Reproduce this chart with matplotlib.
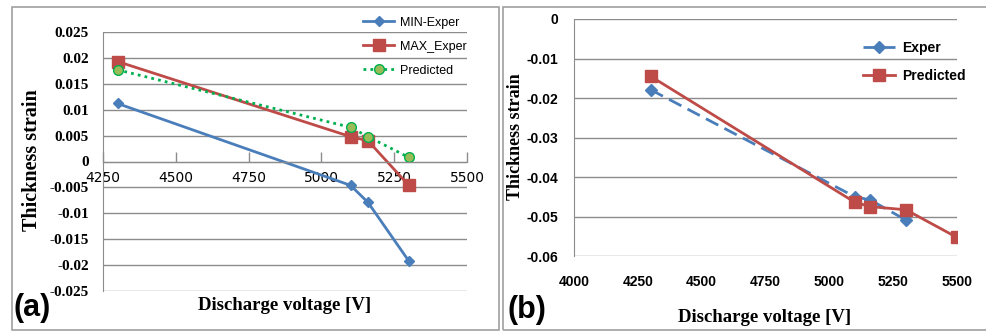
import matplotlib
matplotlib.use('Agg')
import matplotlib.pyplot as plt
from matplotlib.patches import Rectangle

# panel (a)
volt_a = [4300, 5100, 5160, 5300]
min_exper = [0.0112, -0.0046, -0.0079, -0.0192]
max_exper = [0.0193, 0.0048, 0.0040, -0.0046]
pred_a = [0.0177, 0.0066, 0.0048, 0.0008]
xticks_a = [4250, 4500, 4750, 5000, 5250, 5500]
yticks_a = [0.025, 0.02, 0.015, 0.01, 0.005, 0, -0.005, -0.01, -0.015, -0.02, -0.025]

# panel (b)
volt_b_exp = [4300, 5100, 5160, 5300]
exper_b = [-0.0179, -0.0450, -0.0458, -0.0509]
volt_b_pred = [4300, 5100, 5160, 5300, 5500]
pred_b = [-0.0145, -0.0464, -0.0475, -0.0483, -0.0553]
xticks_b = [4000, 4250, 4500, 4750, 5000, 5250, 5500]
yticks_b = [0, -0.01, -0.02, -0.03, -0.04, -0.05, -0.06]

BLUE = '#4A7EBB'
RED = '#BE4B48'
GREEN = '#00B050'
OLIVE = '#9BBB59'
GRID = '#8C8C8C'

fig = plt.figure(figsize=(9.87, 3.31), dpi=100)
W, H = 987.0, 331.0

def fx(px):
    return px / W

def fy(py):
    return 1 - py / H

# panel frames
fig.patches.append(Rectangle((fx(12), fy(330)), fx(499) - fx(12), fy(7) - fy(330),
                             transform=fig.transFigure, fill=False, ec='#A0A0A0', lw=1.2))
fig.patches.append(Rectangle((fx(503), fy(330)), fx(990) - fx(503), fy(7) - fy(330),
                             transform=fig.transFigure, fill=False, ec='#A0A0A0', lw=1.2))

# ---- (a) ----
ax1 = fig.add_axes([fx(103), fy(291), fx(467) - fx(103), fy(32) - fy(291)])
ax1.plot(volt_a, min_exper, color=BLUE, lw=2, marker='D', ms=5, mfc=BLUE, mec=BLUE, label='MIN-Exper')
ax1.plot(volt_a, max_exper, color=RED, lw=2, marker='s', ms=8, mfc=RED, mec=RED, label='MAX_Exper')
ax1.plot(volt_a, pred_a, color=GREEN, lw=2, ls=(0, (1, 1.5)), marker='o', ms=7,
         mfc=OLIVE, mec=GREEN, label='Predicted')
ax1.set_xlim(4250, 5500)
ax1.set_ylim(-0.025, 0.025)
ax1.set_xticks(xticks_a)
ax1.set_yticks(yticks_a)
ax1.set_yticklabels([f'{v:g}' for v in yticks_a], family='Liberation Serif', fontweight='bold', fontsize=11)
ax1.set_xticklabels([str(v) for v in xticks_a], family='Liberation Sans', style='italic',
                    fontweight='bold', fontsize=9)
ax1.spines['bottom'].set_position(('data', 0))
for s in ['top', 'right']:
    ax1.spines[s].set_visible(False)
ax1.spines['left'].set_color(GRID)
ax1.spines['bottom'].set_color(GRID)
ax1.tick_params(axis='x', direction='in', length=7, color=GRID, width=1, pad=7)
ax1.tick_params(axis='y', length=0, pad=10)
ax1.yaxis.grid(True, color=GRID, lw=1)
ax1.set_axisbelow(True)
fig.text(fx(32), fy(160), 'Thickness strain', family='Liberation Serif', fontweight='bold',
         fontsize=14.5, rotation=90, ha='center', va='center')
fig.text(fx(285), fy(305), 'Discharge voltage [V]', family='Liberation Serif', fontweight='bold',
         fontsize=13.5, ha='center', va='center')
fig.text(fx(14), fy(308), '(a)', family='Liberation Sans', fontweight='bold', fontsize=22,
         ha='left', va='center')
ax1.legend(loc='upper right', bbox_to_anchor=(fx(476), fy(8)), bbox_transform=fig.transFigure,
           frameon=False, prop={'family': 'Liberation Sans', 'size': 9}, handlelength=2.5,
           labelspacing=0.95, borderpad=0.2, handletextpad=0.5)

# ---- (b) ----
ax2 = fig.add_axes([fx(574), fy(256), fx(957) - fx(574), fy(19) - fy(256)])
ax2.plot(volt_b_exp, exper_b, color=BLUE, lw=2, ls=(0, (5, 2.5)), marker='D', ms=6,
         mfc=BLUE, mec=BLUE, label='Exper')
ax2.plot(volt_b_pred, pred_b, color=RED, lw=2, marker='s', ms=8, mfc=RED, mec=RED, label='Predicted')
ax2.set_xlim(4000, 5500)
ax2.set_ylim(-0.06, 0)
ax2.set_xticks(xticks_b)
ax2.set_yticks(yticks_b)
ax2.set_yticklabels([f'{v:g}' for v in yticks_b], family='Liberation Sans', fontweight='bold', fontsize=10)
ax2.set_xticklabels([str(v) for v in xticks_b], family='Liberation Sans', fontweight='bold', fontsize=10)
for s in ['top', 'right', 'bottom']:
    ax2.spines[s].set_visible(False)
ax2.spines['left'].set_color(GRID)
ax2.tick_params(axis='x', length=0, pad=14)
ax2.tick_params(axis='y', length=0, pad=11.5)
ax2.yaxis.grid(True, color=GRID, lw=1)
ax2.set_axisbelow(True)
fig.text(fx(515), fy(137), 'Thickness strain', family='Liberation Serif', fontweight='bold',
         fontsize=13, rotation=90, ha='center', va='center')
fig.text(fx(765), fy(317), 'Discharge voltage [V]', family='Liberation Serif', fontweight='bold',
         fontsize=13.5, ha='center', va='center')
fig.text(fx(508), fy(310), '(b)', family='Liberation Sans', fontweight='bold', fontsize=22,
         ha='left', va='center')
ax2.legend(loc='upper right', bbox_to_anchor=(fx(975), fy(31)), bbox_transform=fig.transFigure,
           frameon=False, prop={'family': 'Liberation Sans', 'weight': 'bold', 'size': 10},
           handlelength=2.3, labelspacing=1.0, borderpad=0.2, handletextpad=0.5)

fig.savefig('out.png', dpi=100)
